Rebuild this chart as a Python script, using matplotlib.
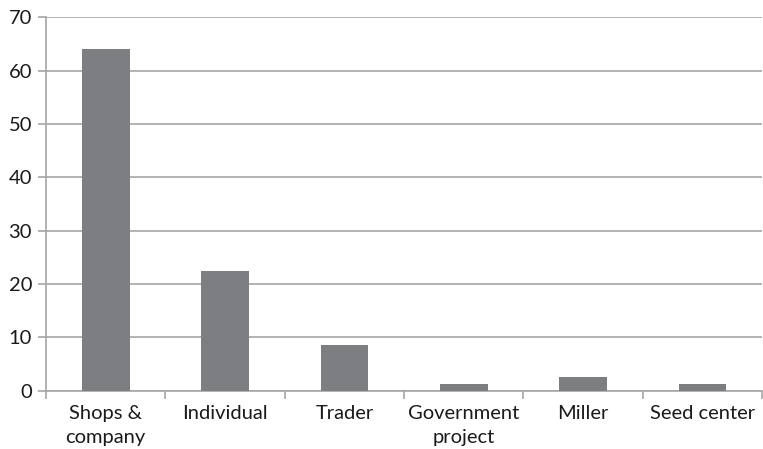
import matplotlib
matplotlib.use("Agg")
import matplotlib.pyplot as plt
import numpy as np

# sources and their share (%)
sources = ["Shops &\ncompany", "Individual", "Trader", "Government\nproject", "Miller", "Seed center"]
share = [64, 22.4, 8.5, 1.2, 2.5, 1.2]

plt.rcParams["font.family"] = ["Lato", "DejaVu Sans"]

fig = plt.figure(figsize=(7.63, 4.49), dpi=100)
ax = fig.add_axes([0.0603, 0.1298, 0.9387, 0.8317])

x = np.arange(len(sources))
ax.bar(x, share, width=0.4, color="#7d7e82", zorder=3)

ax.set_xlim(-0.5, len(sources) - 0.5)
ax.set_ylim(0, 70)
ax.set_yticks(range(0, 71, 10))
ax.yaxis.grid(True, color="#a6a6a6", linewidth=1.2, zorder=0)

ax.set_xticks(x)
ax.set_xticklabels(sources, fontsize=14.5, color="#1a1a1a", linespacing=1.55)
ax.set_xticks(np.arange(-0.5, len(sources)), minor=True)
ax.tick_params(axis="x", which="major", length=0, pad=10)
ax.tick_params(axis="x", which="minor", length=6, width=1.2, color="#a6a6a6")
ax.tick_params(axis="y", length=6, width=1.2, color="#a6a6a6", labelsize=14.5,
               labelcolor="#1a1a1a", pad=4)

for side in ["top", "right"]:
    ax.spines[side].set_visible(False)
for side in ["left", "bottom"]:
    ax.spines[side].set_color("#a6a6a6")
    ax.spines[side].set_linewidth(1.2)

fig.savefig("out.png", dpi=100)
